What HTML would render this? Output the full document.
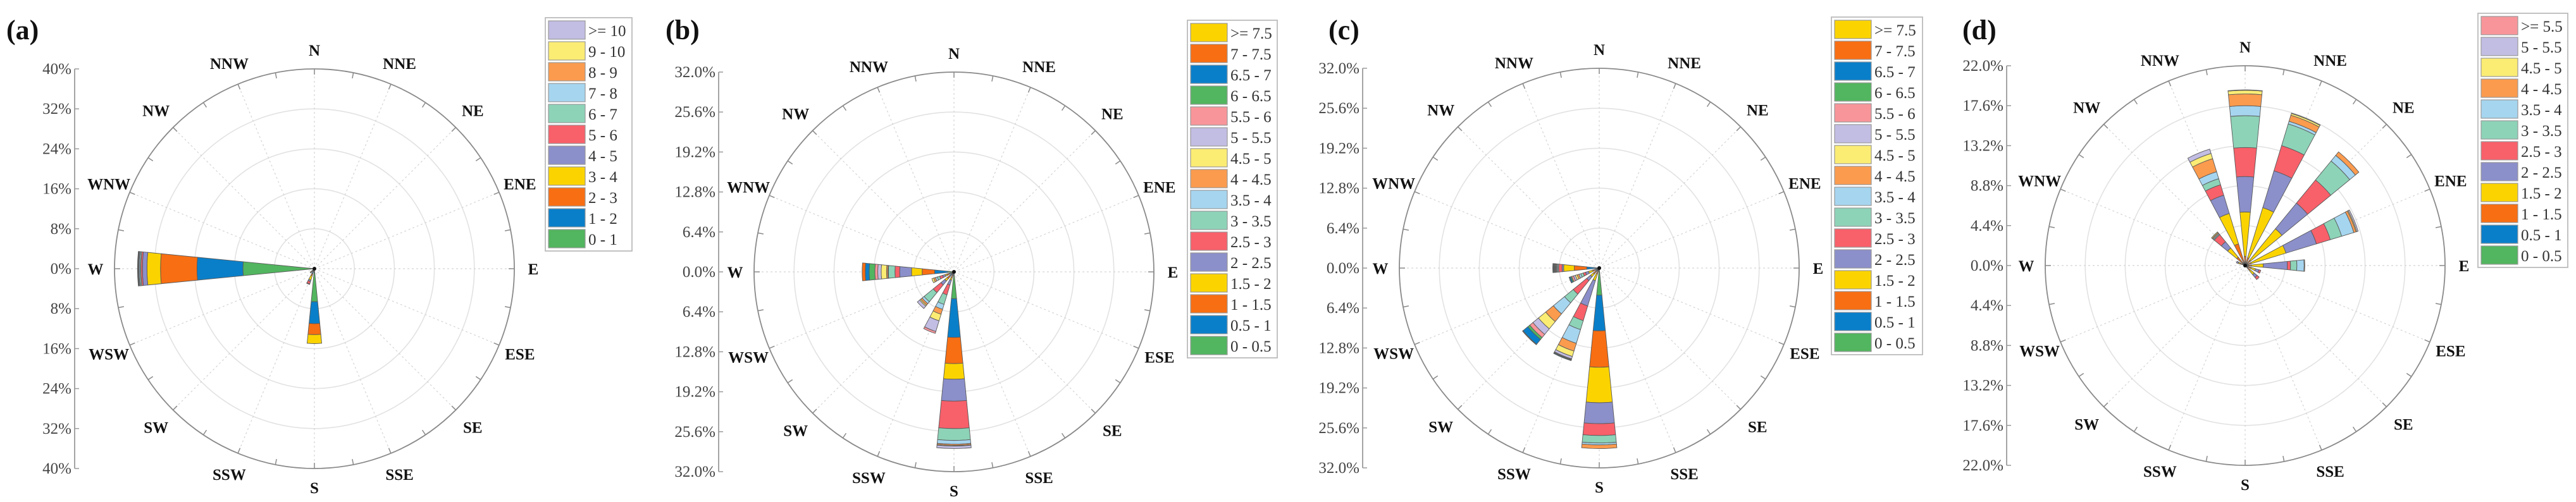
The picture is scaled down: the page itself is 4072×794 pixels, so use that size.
<!DOCTYPE html>
<html><head><meta charset="utf-8">
<style>
html,body{margin:0;padding:0;background:#fff;}
svg{display:block;}
text{font-family:"Liberation Serif",serif;}
</style></head>
<body>
<svg id="fig" width="4072" height="794" viewBox="0 0 4072 794" xmlns="http://www.w3.org/2000/svg"></svg>
<script>
// ---------- data ----------
const directions = ['N','NNE','NE','ENE','E','ESE','SE','SSE','S','SSW','SW','WSW','W','WNW','NW','NNW'];

const palette16 = ['#52b55f','#0a7fc9','#f86e12','#fbd400','#8b8fca','#f8606a','#8dd3b8','#a6d5ef','#fb9b4e','#fbec74','#c2bde3','#f8959a','#52b55f','#0a7fc9','#f86e12','#fbd400'];

// panel a
const aBins = ['0 - 1','1 - 2','2 - 3','3 - 4','4 - 5','5 - 6','6 - 7','7 - 8','8 - 9','9 - 10','>= 10'];
const aTicks = ['40%','32%','24%','16%','8%','0%','8%','16%','24%','32%','40%'];
const aMax = 40;
const aW = [14.3,9.2,7.3,2.7,0.9,0.3,0.2,0.2,0.1,0.1,0.1];
const aS = [6.6,4.4,2.2,1.8,0,0,0,0,0,0,0];
const aSSW = [0.6,0.5,0.4,0.9,0.3,0.5,0.1,0,0,0,0];
const aSW = [0.3,0.3,0.2,0.2,0.1,0,0,0,0,0,0];

// panel b
const bBins = ['0 - 0.5','0.5 - 1','1 - 1.5','1.5 - 2','2 - 2.5','2.5 - 3','3 - 3.5','3.5 - 4','4 - 4.5','4.5 - 5','5 - 5.5','5.5 - 6','6 - 6.5','6.5 - 7','7 - 7.5','>= 7.5'];
const bTicks = ['32.0%','25.6%','19.2%','12.8%','6.4%','0.0%','6.4%','12.8%','19.2%','25.6%','32.0%'];
const bMax = 32;
const bS = [4.3,6.2,4.2,2.5,3.5,4.4,1.9,0.6,0.2,0.1,0.4,0,0,0,0,0];
const bW = [1.0,2.1,2.0,1.7,1.9,0.75,1.05,0.1,0.2,0.85,0.55,0.46,0.91,0.63,0.5,0];
const bSW = [0.3,0.6,0.5,0.5,0.8,1.6,1.9,0.4,0.3,0.2,0.5,0,0,0,0,0];
const bSSW = [0.2,0.4,0.4,0.4,0.8,1.65,1.6,0.82,0.83,1.1,1.78,0.32,0,0,0,0];
const bWSW = [0.3,0.5,0.4,0.3,0.4,0.5,0.4,0.3,0.3,0.3,0,0,0,0,0,0];

// panel c
const cBins = bBins;
const cTicks = bTicks;
const cMax = 32;
const cS = [4.35,5.7,5.84,5.68,3.35,1.9,1.2,0.3,0.6,0,0,0,0,0,0,0];
const cSW = [0.3,0.4,0.5,0.6,0.8,2.8,1.8,2.3,1.6,1.5,1.15,0.65,0.4,1.0,0.1,0];
const cSSW = [0.2,0.3,0.5,1.1,4.25,2.45,1.5,2.3,1.3,0.9,0.4,0.1,0.1,0.1,0,0];
const cW = [0.5,1.5,2.0,1.7,0.25,0.55,0.15,0.15,0.1,0.1,0.1,0.1,0.1,0.1,0.05,0];
const cWSW = [0.3,0.4,0.4,0.7,0.5,0.4,0.4,0.3,0.3,0.3,0.3,0.3,0.2,0.2,0.05,0];

// panel d
const dBins = ['0 - 0.5','0.5 - 1','1 - 1.5','1.5 - 2','2 - 2.5','2.5 - 3','3 - 3.5','3.5 - 4','4 - 4.5','4.5 - 5','5 - 5.5','>= 5.5'];
const dTicks = ['22.0%','17.6%','13.2%','8.8%','4.4%','0.0%','4.4%','8.8%','13.2%','17.6%','22.0%'];
const dMax = 22;
const dN = [0.1,0.1,0.8,4.9,3.9,3.2,3.5,1.1,1.3,0.4,0.05,0];
const dNNE = [0.1,0.1,0.7,5.76,4.24,2.9,2.5,0.3,0.7,0.2,0.05,0];
const dNE = [0.1,0.1,0.6,4.45,3.65,3.3,2.7,0.8,0.5,0,0,0];
const dENE = [0.1,0.1,0.5,4.0,3.5,1.6,1.3,1.4,0.25,0.1,0.15,0];
const dE = [0.1,0.2,0.4,1.3,2.65,0.35,0.7,0.8,0.07,0,0,0];
const dESE = [0.1,0.2,0.4,0.5,0.4,0.2,0,0,0,0,0,0];
const dSE = [0.1,0.2,0.4,0.6,0.4,0.3,0,0,0,0,0,0];
const dNNW = [0.1,0.2,2.2,3.5,2.1,1.2,0.7,0.8,1.5,0.6,0.5,0];
const dNW = [0.1,0.2,0.9,1.3,0.9,1.0,0.1,0.1,0.1,0.1,0,0];
const dWNW = [0.1,0.2,0.3,0.2,0.2,0,0,0,0,0,0,0];

// ---------- drawing ----------
const NS = 'http://www.w3.org/2000/svg';
const svg = document.getElementById('fig');
function el(tag, attrs, parent){
  const e = document.createElementNS(NS, tag);
  for (const k in attrs) e.setAttribute(k, attrs[k]);
  (parent||svg).appendChild(e);
  return e;
}
const R = 316;

function drawPanel(p){
  const g = el('g', {});
  
  
  const cx = p.cx, cy = p.cy;
  const rScale = v => v / p.max * R;
  const pt = (r, deg) => { const t = deg*Math.PI/180; return [cx + r*Math.sin(t), cy - r*Math.cos(t)]; };

  // title
  const t = el('text', {x:p.titleX, y:62, 'font-size':44, 'font-weight':'bold', fill:'#111'}, g);
  t.textContent = '(' + p.id + ')';
  
  

  // rings
  for (let i=1;i<=4;i++){
    const c = el('circle', {cx, cy, r:R*i/5, fill:'none', stroke:'#e2e2e2', 'stroke-width':1.6}, g);
    
    
  }
  // rays
  for (let i=0;i<16;i++){
    const [x,y] = pt(R, i*22.5);
    const l = el('line', {x1:cx, y1:cy, x2:x, y2:y, stroke:'#d4d4d4', 'stroke-width':1.2, 'stroke-dasharray':'3 4'}, g);
    
    
  }
  // outer circle
  const oc = el('circle', {cx, cy, r:R, fill:'none', stroke:'#8a8a8a', 'stroke-width':1.8}, g);
  
  
  for (let i=0;i<32;i++){
    const [x1,y1] = pt(R, i*11.25), [x2,y2] = pt(R-9, i*11.25);
    const l = el('line', {x1, y1, x2, y2, stroke:'#8a8a8a', 'stroke-width':1.5}, g);
    
    
  }
  // direction labels
  directions.forEach((d,i)=>{
    const ang = i*22.5;
    const diag = Math.abs(Math.sin(2*ang*Math.PI/180));
    const [x,y] = pt(346 + 8*diag, ang);
    const tx = el('text', {x, y:y+9, 'font-size':25, 'font-weight':'bold', 'text-anchor':'middle', fill:'#111'}, g);
    tx.textContent = d;
    
    
  });

  // left axis
  const ax = p.axisX;
  const al = el('line', {x1:ax, y1:cy-R, x2:ax, y2:cy+R, stroke:'#9a9a9a', 'stroke-width':1.8}, g);
  
  
  p.ticks.forEach((lab,i)=>{
    const y = cy - R + i*(2*R/10);
    const tk = el('line', {x1:ax, y1:y, x2:ax+7, y2:y, stroke:'#9a9a9a', 'stroke-width':1.5}, g);
    
    
    const tx = el('text', {x:ax-5, y:y+8, 'font-size':25, 'text-anchor':'end', fill:'#444'}, g);
    tx.textContent = lab;
    
    
  });

  // bars
  const half = 5.6;
  for (const dir in p.data){
    const vals = p.data[dir];
    const ang = directions.indexOf(dir)*22.5;
    let cum = 0;
    vals.forEach((v,k)=>{
      if (v <= 0) return;
      const r0 = rScale(cum), r1 = rScale(cum+v);
      cum += v;
      const [ax0,ay0] = pt(r0, ang-half), [ax1,ay1] = pt(r1, ang-half);
      const [bx1,by1] = pt(r1, ang+half), [bx0,by0] = pt(r0, ang+half);
      const d = `M${ax0},${ay0} L${ax1},${ay1} A${r1},${r1} 0 0 1 ${bx1},${by1} L${bx0},${by0} A${r0},${r0} 0 0 0 ${ax0},${ay0} Z`;
      const s = el('path', {d, fill:p.colors[k], stroke:'#5a5a5a', 'stroke-width':0.9}, g);
      
      
    });
  }
  const dot = el('circle', {cx, cy, r:3, fill:'#111'}, g);
  
  

  // legend
  const n = p.bins.length, rowH = 33;
  const lg = el('g', {}, g);
  
  
  const box = el('rect', {x:p.legX, y:p.legY, width:p.legW, height:n*rowH+6, fill:'#fff', stroke:'#bbb', 'stroke-width':1.8}, lg);
  
  
  for (let j=0;j<n;j++){
    const k = n-1-j;
    const y = p.legY + 4 + j*rowH;
    const sw = el('rect', {x:p.legX+5, y:y+1, width:58, height:29, fill:p.colors[k], stroke:'#999', 'stroke-width':1.2}, lg);
    
    
    const tx = el('text', {x:p.legX+68, y:y+25, 'font-size':25, fill:'#333'}, lg);
    tx.textContent = p.bins[k];
    
    
  }
}

const aColors = ['#52b55f','#0a7fc9','#f86e12','#fbd400','#8b8fca','#f8606a','#8dd3b8','#a6d5ef','#fb9b4e','#fbec74','#c2bde3'];
drawPanel({id:'a', cx:497, cy:425, max:aMax, ticks:aTicks, bins:aBins, colors:aColors, axisX:118, titleX:10,
  legX:862, legY:28, legW:137, data:{W:aW, S:aS, SSW:aSSW, SW:aSW}});
drawPanel({id:'b', cx:1508, cy:430, max:bMax, ticks:bTicks, bins:bBins, colors:palette16, axisX:1136, titleX:1052,
  legX:1877, legY:32, legW:142, data:{S:bS, W:bW, SW:bSW, SSW:bSSW, WSW:bWSW}});
drawPanel({id:'c', cx:2528, cy:424, max:cMax, ticks:cTicks, bins:cBins, colors:palette16, axisX:2154, titleX:2100,
  legX:2895, legY:27, legW:144, data:{S:cS, SW:cSW, SSW:cSSW, W:cW, WSW:cWSW}});
drawPanel({id:'d', cx:3549, cy:420, max:dMax, ticks:dTicks, bins:dBins, colors:palette16.slice(0,12), axisX:3172, titleX:3102,
  legX:3917, legY:21, legW:142, data:{N:dN, NNE:dNNE, NE:dNE, ENE:dENE, E:dE, ESE:dESE, SE:dSE, NNW:dNNW, NW:dNW, WNW:dWNW}});
</script>
</body></html>
